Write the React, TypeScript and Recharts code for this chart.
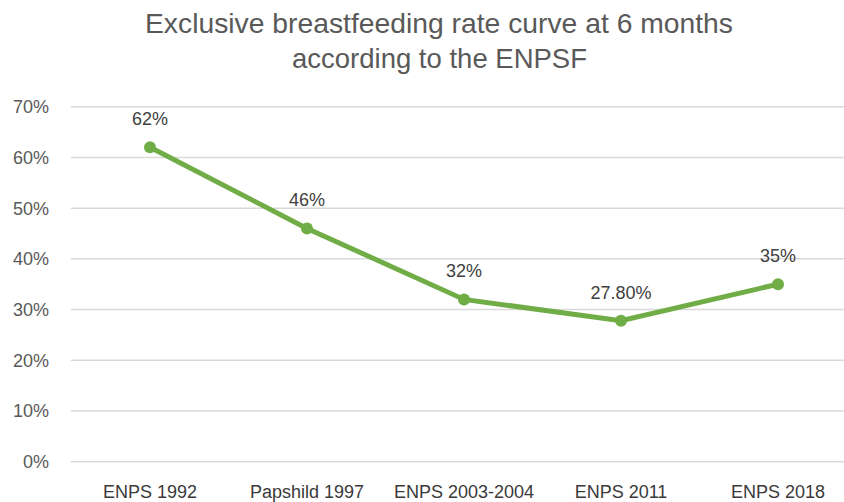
import React from "react";
import { LineChart, Line, XAxis, YAxis, CartesianGrid, LabelList } from "recharts";

const categories = ["ENPS 1992", "Papshild 1997", "ENPS 2003-2004", "ENPS 2011", "ENPS 2018"];
const rates = [62, 46, 32, 27.8, 35];
const rateLabels = ["62%", "46%", "32%", "27.80%", "35%"];
const yTicks = [0, 10, 20, 30, 40, 50, 60, 70];
const titleLines = ["Exclusive breastfeeding rate curve at 6 months", "according to the ENPSF"];

const data = categories.map((c, i) => ({ name: c, value: rates[i], label: rateLabels[i] }));

const FONT = "'Liberation Sans', Arial, sans-serif";

export default function App() {
  return (
    <div style={{ position: "absolute", left: 0, top: 0, width: 844, height: 502, background: "#fff", overflow: "hidden" }}>
      <LineChart
        width={844}
        height={502}
        data={data}
        margin={{ top: 106.7, right: 0, bottom: 0, left: 0 }}
      >
        <CartesianGrid vertical={false} stroke="#D9D9D9" strokeWidth={1.5} />
        <XAxis
          dataKey="name"
          height={40.3}
          axisLine={false}
          tickLine={false}
          tickSize={0}
          tickMargin={24}
          padding={{ left: 79, right: 66 }}
          interval={0}
          tick={{ fill: "#3A3A3A", fontSize: 18, fontFamily: FONT }}
        />
        <YAxis
          width={71}
          domain={[0, 70]}
          ticks={yTicks}
          axisLine={false}
          tickLine={false}
          tickSize={0}
          tickMargin={22}
          tickFormatter={(v: number) => `${v}%`}
          tick={{ fill: "#595959", fontSize: 18, fontFamily: FONT }}
        />
        <Line
          type="linear"
          dataKey="value"
          stroke="#70AD47"
          strokeWidth={5}
          dot={{ r: 6, fill: "#70AD47", stroke: "#70AD47", strokeWidth: 0 }}
          isAnimationActive={false}
        >
          <LabelList dataKey="label" position="top" offset={22} fill="#404040" fontSize={18} fontFamily={FONT} />
        </Line>
      </LineChart>
      <svg width={844} height={90} style={{ position: "absolute", left: 0, top: 0 }}>
        <text x={145} y={33} fontFamily={FONT} fontSize={28} fill="#595959" textLength={588} lengthAdjust="spacingAndGlyphs">
          {titleLines[0]}
        </text>
        <text x={292} y={68} fontFamily={FONT} fontSize={28} fill="#595959" textLength={295} lengthAdjust="spacingAndGlyphs">
          {titleLines[1]}
        </text>
      </svg>
    </div>
  );
}
